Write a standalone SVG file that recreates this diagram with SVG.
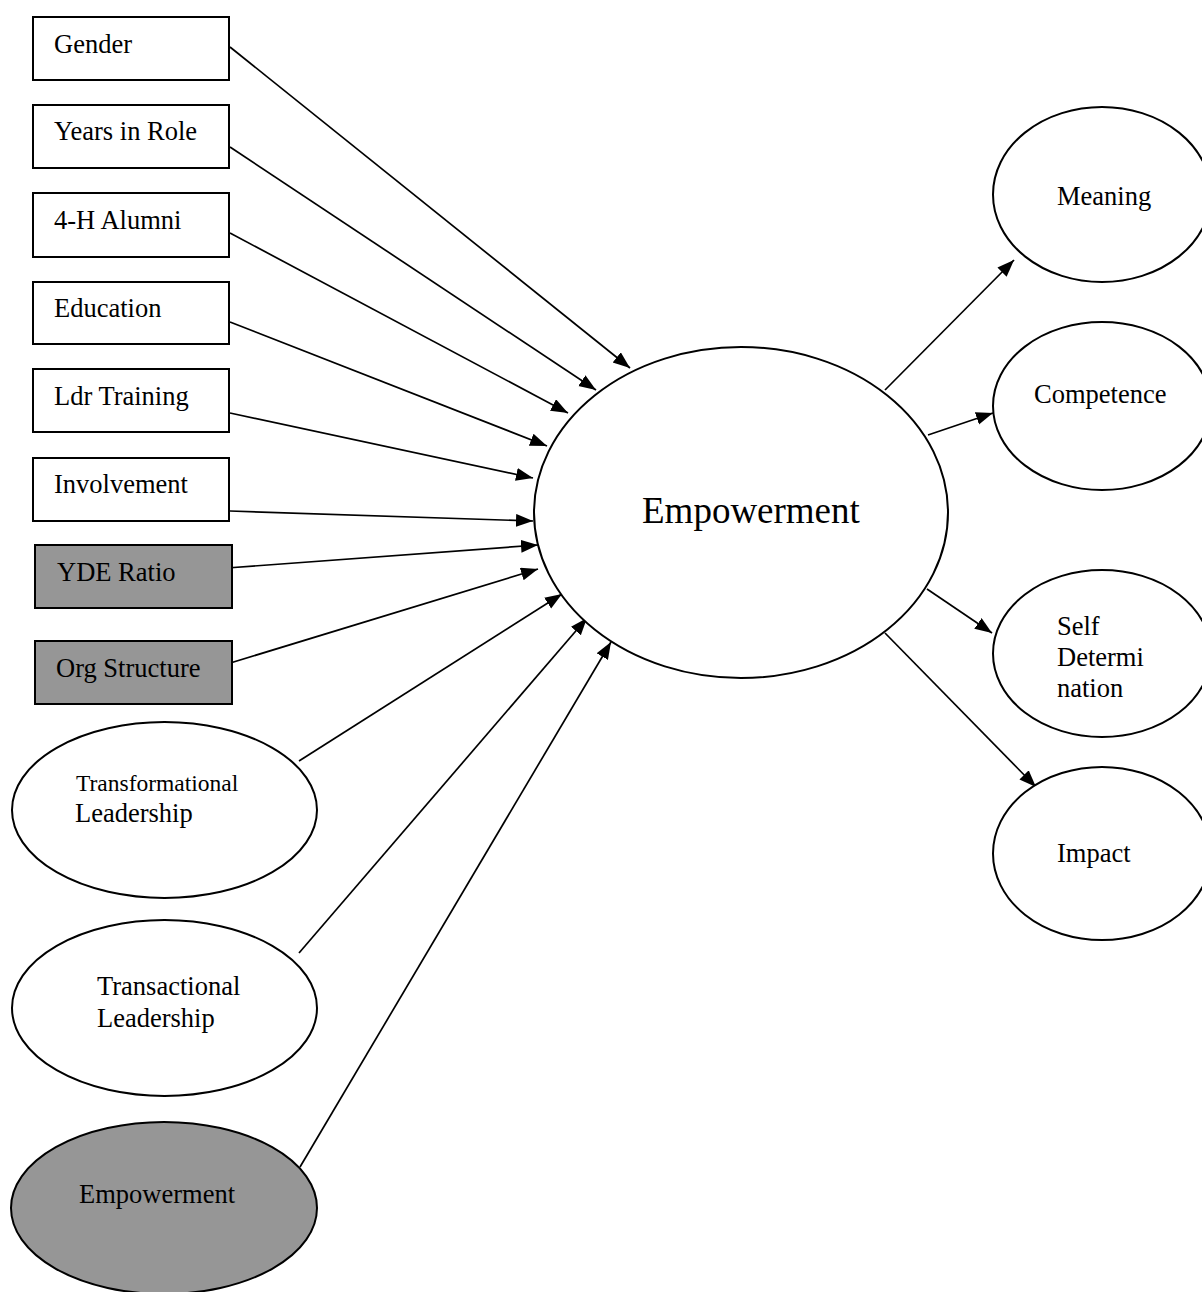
<svg xmlns="http://www.w3.org/2000/svg" width="1202" height="1292" viewBox="0 0 1202 1292">
<style>
.box{fill:#ffffff;stroke:#000;stroke-width:2}
.gray{fill:#969696;stroke:#000;stroke-width:2}
.ell{fill:#ffffff;stroke:#000;stroke-width:2}
.t{font-family:"Liberation Serif","Times New Roman",serif;font-size:26.5px;fill:#000}
.conn line{stroke:#000;stroke-width:1.7;marker-end:url(#arr)}
</style>
<defs>
<marker id="arr" markerUnits="userSpaceOnUse" markerWidth="18" markerHeight="14" refX="17" refY="6.5" orient="auto">
<path d="M0,0 L17,6.5 L0,13 z" fill="#000"/>
</marker>
</defs>
<rect width="1202" height="1292" fill="#ffffff"/>
<g id="connectors" class="conn">
<line x1="230" y1="47" x2="630" y2="368"/>
<line x1="230" y1="147" x2="596" y2="390"/>
<line x1="230" y1="233" x2="568" y2="413"/>
<line x1="230" y1="322" x2="547" y2="446"/>
<line x1="230" y1="413" x2="533" y2="478"/>
<line x1="230" y1="511" x2="533" y2="521"/>
<line x1="227" y1="568" x2="538" y2="545"/>
<line x1="227" y1="664" x2="538" y2="569"/>
<line x1="299" y1="761" x2="562" y2="594"/>
<line x1="299" y1="953" x2="587" y2="618"/>
<line x1="300" y1="1167" x2="611" y2="642"/>
<line x1="885" y1="390" x2="1014" y2="260"/>
<line x1="928" y1="435" x2="993" y2="413"/>
<line x1="927" y1="589" x2="992" y2="633"/>
<line x1="885" y1="633" x2="1036" y2="787"/>
</g>
<g id="gender"><rect class="box" x="33" y="17" width="196" height="63"/><text class="t" x="54" y="53">Gender</text></g>
<g id="years"><rect class="box" x="33" y="105" width="196" height="63"/><text class="t" x="54" y="140">Years in Role</text></g>
<g id="alumni"><rect class="box" x="33" y="193" width="196" height="64"/><text class="t" x="54" y="229">4-H Alumni</text></g>
<g id="education"><rect class="box" x="33" y="282" width="196" height="62"/><text class="t" x="54" y="317">Education</text></g>
<g id="ldr"><rect class="box" x="33" y="369" width="196" height="63"/><text class="t" x="54" y="405">Ldr Training</text></g>
<g id="involvement"><rect class="box" x="33" y="458" width="196" height="63"/><text class="t" x="54" y="493">Involvement</text></g>
<g id="yde"><rect class="gray" x="35" y="545" width="197" height="63"/><text class="t" x="57" y="581">YDE Ratio</text></g>
<g id="org"><rect class="gray" x="35" y="641" width="197" height="63"/><text class="t" x="56" y="677">Org Structure</text></g>
<g id="transformational"><ellipse class="ell" cx="164.5" cy="810" rx="152.5" ry="88"/><text class="t" x="76" y="791" style="font-size:23.5px">Transformational</text><text class="t" x="75" y="822">Leadership</text></g>
<g id="transactional"><ellipse class="ell" cx="164.5" cy="1008" rx="152.5" ry="88"/><text class="t" x="97" y="995">Transactional</text><text class="t" x="97" y="1027">Leadership</text></g>
<g id="empowerment-prior"><ellipse class="gray" cx="164" cy="1208" rx="153" ry="86"/><text class="t" x="79" y="1203">Empowerment</text></g>
<g id="empowerment"><ellipse class="ell" cx="741" cy="512.5" rx="207" ry="165.5"/><text class="t" x="642" y="523" style="font-size:37px">Empowerment</text></g>
<g id="meaning"><ellipse class="ell" cx="1102" cy="194.5" rx="109" ry="87.5"/><text class="t" x="1057" y="205">Meaning</text></g>
<g id="competence"><ellipse class="ell" cx="1102" cy="406" rx="109" ry="84"/><text class="t" x="1034" y="403">Competence</text></g>
<g id="selfdetermination"><ellipse class="ell" cx="1102" cy="653.5" rx="109" ry="83.5"/><text class="t" x="1057" y="635">Self</text><text class="t" x="1057" y="666">Determi</text><text class="t" x="1057" y="697">nation</text></g>
<g id="impact"><ellipse class="ell" cx="1102" cy="853.5" rx="109" ry="86.5"/><text class="t" x="1057" y="862">Impact</text></g>
</svg>
